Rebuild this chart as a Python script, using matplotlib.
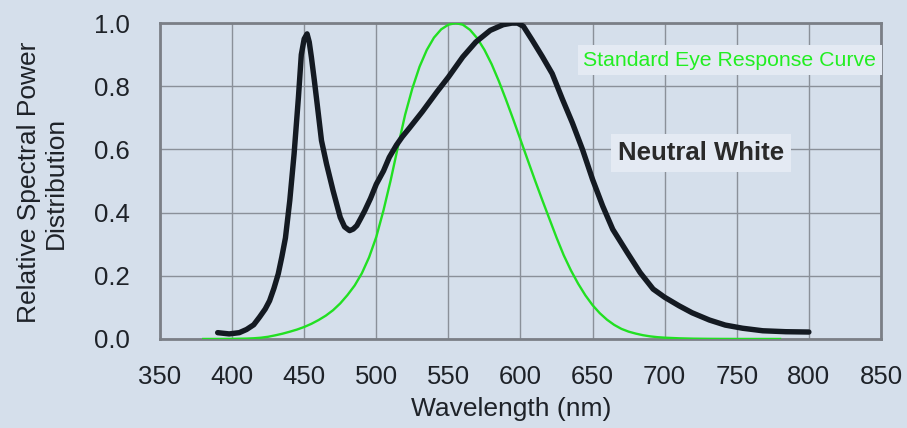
"""
Relative spectral power of a neutral white LED vs the standard eye response.
"""
import matplotlib.pyplot as plt

# neutral white LED spectrum
ledWl = [390, 398, 405, 410, 415, 419, 423, 426, 429, 432, 434.5, 437, 440,
         443, 446, 448, 450, 452, 453.5, 455, 457, 459, 462, 465.5, 470, 475,
         478, 481.5, 484, 486.5, 489, 492, 496, 500, 505, 509, 514, 518, 523,
         532, 542, 550, 560, 569, 579, 588, 594, 598, 602, 608, 615, 622, 629,
         636, 643, 650, 657, 664, 674, 683, 692, 700, 710, 719, 731, 742, 754,
         768, 784, 800]
ledPower = [0.02, 0.016, 0.02, 0.03, 0.045, 0.069, 0.095, 0.121, 0.16, 0.206,
            0.26, 0.32, 0.438, 0.586, 0.765, 0.9, 0.95, 0.966, 0.94, 0.892,
            0.82, 0.744, 0.628, 0.554, 0.47, 0.385, 0.355, 0.343, 0.348,
            0.359, 0.38, 0.406, 0.445, 0.49, 0.532, 0.575, 0.614, 0.64, 0.668,
            0.72, 0.782, 0.829, 0.893, 0.94, 0.977, 0.995, 1.0, 1.0, 0.99,
            0.947, 0.895, 0.84, 0.76, 0.684, 0.6, 0.505, 0.421, 0.347, 0.274,
            0.21, 0.158, 0.132, 0.105, 0.083, 0.06, 0.044, 0.034, 0.026,
            0.023, 0.022]

# standard photopic eye response
eyeWl = [380, 390, 400, 410, 415, 420, 425, 430, 435, 440, 445, 450, 455, 460,
         465, 470, 475, 480, 485, 490, 495, 500, 505, 510, 515, 520, 525, 530,
         535, 540, 545, 550, 555, 560, 565, 570, 575, 580, 585, 590, 595, 600,
         605, 610, 615, 620, 625, 630, 635, 640, 645, 650, 655, 660, 665, 670,
         675, 680, 685, 690, 695, 700, 710, 720, 730, 740, 750, 760, 770, 780]
eyeResp = [0.00004, 0.00012, 0.0004, 0.0012, 0.0022, 0.004, 0.007, 0.0116,
           0.0168, 0.023, 0.0298, 0.038, 0.048, 0.06, 0.0739, 0.091, 0.1126,
           0.139, 0.1693, 0.208, 0.2586, 0.323, 0.4073, 0.503, 0.6082, 0.71,
           0.7932, 0.862, 0.9148, 0.954, 0.9803, 0.995, 1.0, 0.995, 0.9786,
           0.952, 0.9154, 0.87, 0.8163, 0.757, 0.6949, 0.631, 0.5668, 0.503,
           0.4412, 0.381, 0.321, 0.265, 0.217, 0.175, 0.1382, 0.107, 0.0816,
           0.061, 0.0446, 0.032, 0.0232, 0.017, 0.0119, 0.0082, 0.0057, 0.0041,
           0.0021, 0.001, 0.0005, 0.00025, 0.00012, 0.00006, 0.00003, 0.000015]

xTicks = [350, 400, 450, 500, 550, 600, 650, 700, 750, 800, 850]
yTicks = [0.0, 0.2, 0.4, 0.6, 0.8, 1.0]

plt.rcParams['font.family'] = ['Liberation Sans', 'DejaVu Sans']

bg = '#d5dfeb'
txt = '#1e2228'
fig = plt.figure(figsize=(9.07, 4.28), dpi=100, facecolor=bg)

ax = fig.add_axes([0.1764, 0.208, 0.7949, 0.738])
ax.patch.set_visible(False)

ax.plot(eyeWl, eyeResp, color='#22e022', lw=1.7, zorder=3)
ax.plot(ledWl, ledPower, color='#141a22', lw=3.9, solid_capstyle='round',
        solid_joinstyle='round', zorder=4)

ax.set_xlim(350, 850)
ax.set_ylim(0, 1.0)
ax.set_xticks(xTicks)
ax.set_yticks(yTicks)
ax.set_yticklabels(['%.1f' % v for v in yTicks])
ax.tick_params(length=0, labelsize=18.5, colors=txt)
ax.tick_params(axis='y', pad=22)
ax.tick_params(axis='x', pad=19)
ax.grid(True, color='#8a9099', lw=1)
ax.set_axisbelow(True)
for s in ax.spines.values():
    s.set_color('#7b7f86')
    s.set_linewidth(2)

ax.set_xlabel('Wavelength (nm)', fontsize=19, color=txt)
ax.xaxis.set_label_coords(0.5 - 9 / 721, -0.185)
ax.set_ylabel('Relative Spectral Power\nDistribution', fontsize=19,
              color=txt, linespacing=1.12)
ax.yaxis.set_label_coords(-0.128, 0.495)

# labels sit on small boxes that break the grid, as in the original
ax.text(745, 0.883, 'Standard Eye Response Curve', fontsize=15.3,
        color='#22ee22', ha='center', va='center', zorder=5, clip_on=False,
        bbox=dict(facecolor='#e4eaf3', edgecolor='none', pad=4))
ax.text(725.5, 0.59, 'Neutral White', fontsize=18.5, fontweight='bold',
        color='#2a2a2a', ha='center', va='center', zorder=5,
        bbox=dict(facecolor='#e4eaf3', edgecolor='none', pad=5))

fig.savefig('out.png', dpi=100, facecolor=bg)
